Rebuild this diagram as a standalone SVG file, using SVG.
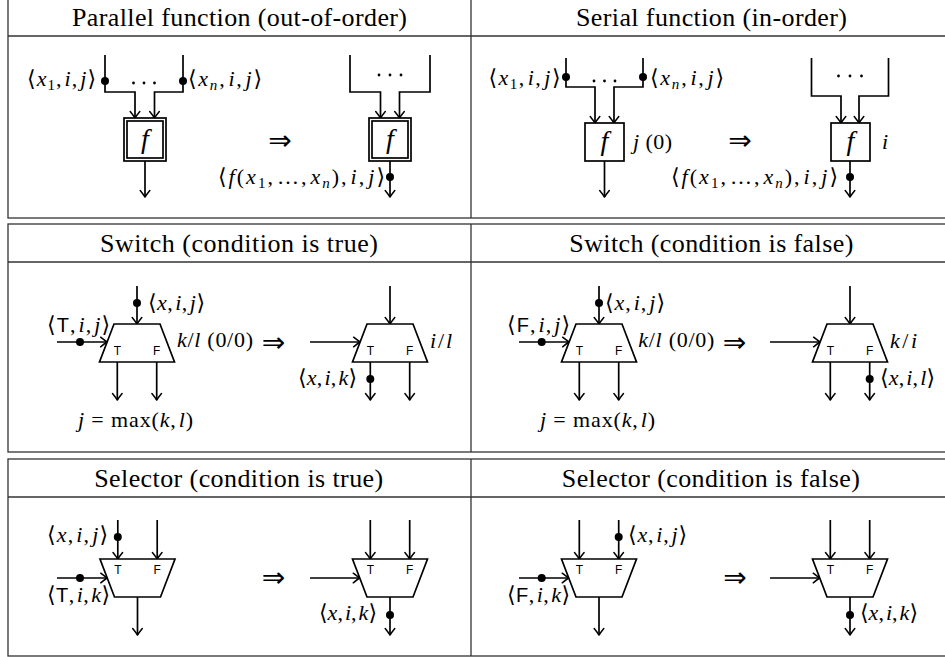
<svg xmlns="http://www.w3.org/2000/svg" width="945" height="657" viewBox="0 0 945 657">
<defs>
<style>
.tb{stroke:#333;stroke-width:1.3;fill:none}
.hd{font-family:"Liberation Serif",serif;font-size:26px;fill:#000;text-anchor:middle}
.ln{stroke:#000;stroke-width:1.7;fill:none;stroke-linejoin:miter;marker-end:url(#ah)}
.dot{fill:#000}
.sh{fill:#fff;stroke:#000;stroke-width:1.7}
.m{font-family:"Liberation Serif","DejaVu Serif","DejaVu Sans",serif;font-size:22px;fill:#000}
.i{font-style:italic}
.sb{font-size:15px}
.sf{font-family:"Liberation Sans",sans-serif;font-style:normal;font-size:20px}
.tf{font-family:"Liberation Sans",sans-serif;font-size:12px;text-anchor:middle;fill:#000}
.ar{font-family:"DejaVu Sans",sans-serif;font-size:28px;text-anchor:middle;fill:#000}
.fx{font-family:"Liberation Serif",serif;font-style:italic;font-size:28px;text-anchor:middle;fill:#000}
</style>
<marker id="ah" markerUnits="userSpaceOnUse" markerWidth="10" markerHeight="12" viewBox="-8 -6 9 12" refX="0" refY="0" orient="auto" overflow="visible">
<path d="M-6.5,-4.8 Q-2,-1.2 0,0 Q-2,1.2 -6.5,4.8" fill="none" stroke="#000" stroke-width="1.5" stroke-linecap="round" stroke-linejoin="round"/>
</marker>
</defs>
<rect width="945" height="657" fill="#fff"/>

<g id="table" class="tb">
<rect x="8" y="-2" width="943" height="220"/>
<line x1="8" y1="36" x2="951" y2="36"/>
<line x1="471" y1="-2" x2="471" y2="218"/>
<rect x="8" y="224" width="943" height="228"/>
<line x1="8" y1="262" x2="951" y2="262"/>
<line x1="471" y1="224" x2="471" y2="452"/>
<rect x="8" y="459" width="943" height="197"/>
<line x1="8" y1="497" x2="951" y2="497"/>
<line x1="471" y1="459" x2="471" y2="656"/>
</g>

<g id="headers">
<text class="hd" x="239.5" y="26" textLength="335" lengthAdjust="spacing">Parallel function (out-of-order)</text>
<text class="hd" x="711.5" y="26" textLength="271" lengthAdjust="spacing">Serial function (in-order)</text>
<text class="hd" x="239" y="252" textLength="278" lengthAdjust="spacing">Switch (condition is true)</text>
<text class="hd" x="711.3" y="252" textLength="284" lengthAdjust="spacing">Switch (condition is false)</text>
<text class="hd" x="238.7" y="487" textLength="289" lengthAdjust="spacing">Selector (condition is true)</text>
<text class="hd" x="710.8" y="487" textLength="298" lengthAdjust="spacing">Selector (condition is false)</text>
</g>

<g id="connectors">
<polyline class="ln" points="105,55 105,92 135,92 135,118"/>
<polyline class="ln" points="183,55 183,92 154.5,92 154.5,118"/>
<line class="ln" x1="145" y1="161" x2="145" y2="197"/>
<polyline class="ln" points="350,55 350,92 380.5,92 380.5,118"/>
<polyline class="ln" points="430,55 430,92 399.5,92 399.5,118"/>
<line class="ln" x1="390" y1="161" x2="390" y2="197"/>
<polyline class="ln" points="566,58 566,87 595,87 595,123"/>
<polyline class="ln" points="643,58 643,87 614,87 614,123"/>
<line class="ln" x1="604.5" y1="161" x2="604.5" y2="197"/>
<polyline class="ln" points="811.5,58 811.5,96 841,96 841,123"/>
<polyline class="ln" points="888.5,58 888.5,96 859,96 859,123"/>
<line class="ln" x1="850" y1="161" x2="850" y2="197"/>

<line class="ln" x1="137" y1="286" x2="137" y2="324"/>
<line class="ln" x1="57" y1="342" x2="107.1" y2="342"/>
<line class="ln" x1="117.3" y1="362" x2="117.3" y2="400"/>
<line class="ln" x1="156.7" y1="362" x2="156.7" y2="400"/>
<line class="ln" x1="390" y1="286" x2="390" y2="324"/>
<line class="ln" x1="310" y1="342" x2="360.1" y2="342"/>
<line class="ln" x1="370.3" y1="362" x2="370.3" y2="400"/>
<line class="ln" x1="409.7" y1="362" x2="409.7" y2="400"/>
<line class="ln" x1="599" y1="286" x2="599" y2="324"/>
<line class="ln" x1="519" y1="342" x2="569.1" y2="342"/>
<line class="ln" x1="579.3" y1="362" x2="579.3" y2="400"/>
<line class="ln" x1="618.7" y1="362" x2="618.7" y2="400"/>
<line class="ln" x1="850" y1="286" x2="850" y2="324"/>
<line class="ln" x1="770" y1="342" x2="820.1" y2="342"/>
<line class="ln" x1="830.3" y1="362" x2="830.3" y2="400"/>
<line class="ln" x1="869.7" y1="362" x2="869.7" y2="400"/>

<line class="ln" x1="117.8" y1="520" x2="117.8" y2="559"/>
<line class="ln" x1="157.2" y1="520" x2="157.2" y2="559"/>
<line class="ln" x1="57" y1="578" x2="107.25" y2="578"/>
<line class="ln" x1="137.5" y1="597" x2="137.5" y2="635"/>
<line class="ln" x1="370.3" y1="520" x2="370.3" y2="559"/>
<line class="ln" x1="409.7" y1="520" x2="409.7" y2="559"/>
<line class="ln" x1="310" y1="578" x2="359.75" y2="578"/>
<line class="ln" x1="390" y1="597" x2="390" y2="635"/>
<line class="ln" x1="579.3" y1="520" x2="579.3" y2="559"/>
<line class="ln" x1="618.7" y1="520" x2="618.7" y2="559"/>
<line class="ln" x1="519" y1="578" x2="568.75" y2="578"/>
<line class="ln" x1="599" y1="597" x2="599" y2="635"/>
<line class="ln" x1="830.3" y1="520" x2="830.3" y2="559"/>
<line class="ln" x1="869.7" y1="520" x2="869.7" y2="559"/>
<line class="ln" x1="770" y1="578" x2="819.75" y2="578"/>
<line class="ln" x1="850" y1="597" x2="850" y2="635"/>

<g class="dot">
<circle cx="105" cy="81" r="4"/><circle cx="183" cy="81" r="4"/><circle cx="390" cy="177" r="4"/>
<circle cx="566" cy="77" r="4"/><circle cx="643" cy="77" r="4"/><circle cx="850" cy="177" r="4"/>
<circle cx="137" cy="303" r="4"/><circle cx="80" cy="342" r="4"/><circle cx="370.3" cy="379" r="4"/>
<circle cx="599" cy="303" r="4"/><circle cx="541.7" cy="342" r="4"/><circle cx="869.7" cy="379" r="4"/>
<circle cx="117.8" cy="537" r="4"/><circle cx="80" cy="578" r="4"/><circle cx="390" cy="615" r="4"/>
<circle cx="618.7" cy="537" r="4"/><circle cx="541.7" cy="578" r="4"/><circle cx="850" cy="615" r="4"/>
</g>
<g class="dot">
<circle cx="133.5" cy="83" r="1.4"/><circle cx="144" cy="83" r="1.4"/><circle cx="154.5" cy="83" r="1.4"/>
<circle cx="379" cy="75" r="1.4"/><circle cx="390" cy="75" r="1.4"/><circle cx="401" cy="75" r="1.4"/>
<circle cx="594" cy="81" r="1.4"/><circle cx="604.5" cy="81" r="1.4"/><circle cx="615" cy="81" r="1.4"/>
<circle cx="838.5" cy="76" r="1.4"/><circle cx="850" cy="76" r="1.4"/><circle cx="861.5" cy="76" r="1.4"/>
</g>
</g>

<g id="par-before">
<rect class="sh" x="124" y="118" width="42" height="43"/>
<rect class="sh" x="127" y="121" width="36" height="37"/>
<text class="fx" x="145" y="148">f</text>
</g>
<g id="par-after">
<rect class="sh" x="369" y="118" width="42" height="43"/>
<rect class="sh" x="372" y="121" width="36" height="37"/>
<text class="fx" x="390" y="148">f</text>
</g>
<g id="ser-before">
<rect class="sh" x="585" y="123" width="39" height="38"/>
<text class="fx" x="604.5" y="150">f</text>
</g>
<g id="ser-after">
<rect class="sh" x="831" y="123" width="39" height="38"/>
<text class="fx" x="850.5" y="150">f</text>
</g>

<g id="sw-true-before">
<polygon class="sh" points="114,324 160,324 174.5,362 99.5,362"/>
<text class="tf" x="117.3" y="355">T</text><text class="tf" x="156.7" y="355">F</text>
</g>
<g id="sw-true-after">
<polygon class="sh" points="367,324 413,324 427.5,362 352.5,362"/>
<text class="tf" x="370.3" y="355">T</text><text class="tf" x="409.7" y="355">F</text>
</g>
<g id="sw-false-before">
<polygon class="sh" points="576,324 622,324 636.5,362 561.5,362"/>
<text class="tf" x="579.3" y="355">T</text><text class="tf" x="618.7" y="355">F</text>
</g>
<g id="sw-false-after">
<polygon class="sh" points="827,324 873,324 887.5,362 812.5,362"/>
<text class="tf" x="830.3" y="355">T</text><text class="tf" x="869.7" y="355">F</text>
</g>

<g id="sel-true-before">
<polygon class="sh" points="100,559 175,559 160.5,597 114.5,597"/>
<text class="tf" x="117.8" y="574">T</text><text class="tf" x="157.2" y="574">F</text>
</g>
<g id="sel-true-after">
<polygon class="sh" points="352.5,559 427.5,559 413,597 367,597"/>
<text class="tf" x="370.3" y="574">T</text><text class="tf" x="409.7" y="574">F</text>
</g>
<g id="sel-false-before">
<polygon class="sh" points="561.5,559 636.5,559 622,597 576,597"/>
<text class="tf" x="579.3" y="574">T</text><text class="tf" x="618.7" y="574">F</text>
</g>
<g id="sel-false-after">
<polygon class="sh" points="812.5,559 887.5,559 873,597 827,597"/>
<text class="tf" x="830.3" y="574">T</text><text class="tf" x="869.7" y="574">F</text>
</g>

<g id="labels">
<text class="m" x="96" y="86" text-anchor="end" textLength="69" lengthAdjust="spacing">⟨<tspan class="i">x</tspan><tspan class="sb" dy="4">1</tspan><tspan dy="-4">,</tspan><tspan class="i" dx="2">i</tspan>,<tspan class="i" dx="2">j</tspan>⟩</text>
<text class="m" x="188" y="86" textLength="74" lengthAdjust="spacing">⟨<tspan class="i">x</tspan><tspan class="sb i" dy="4">n</tspan><tspan dy="-4">,</tspan><tspan class="i" dx="2">i</tspan>,<tspan class="i" dx="2">j</tspan>⟩</text>
<text class="m" x="385" y="184" text-anchor="end" textLength="167" lengthAdjust="spacing">⟨<tspan class="i">f</tspan>(<tspan class="i">x</tspan><tspan class="sb" dy="4">1</tspan><tspan dy="-4">,</tspan><tspan dx="2">…</tspan>,<tspan class="i" dx="2">x</tspan><tspan class="sb i" dy="4">n</tspan><tspan dy="-4">),</tspan><tspan class="i" dx="2">i</tspan>,<tspan class="i" dx="2">j</tspan>⟩</text>
<text class="ar" x="280" y="150">⇒</text>

<text class="m" x="560.5" y="85" text-anchor="end" textLength="72" lengthAdjust="spacing">⟨<tspan class="i">x</tspan><tspan class="sb" dy="4">1</tspan><tspan dy="-4">,</tspan><tspan class="i" dx="2">i</tspan>,<tspan class="i" dx="2">j</tspan>⟩</text>
<text class="m" x="650" y="85" textLength="74" lengthAdjust="spacing">⟨<tspan class="i">x</tspan><tspan class="sb i" dy="4">n</tspan><tspan dy="-4">,</tspan><tspan class="i" dx="2">i</tspan>,<tspan class="i" dx="2">j</tspan>⟩</text>
<text class="m" x="633" y="149" textLength="39" lengthAdjust="spacing"><tspan class="i">j</tspan> (0)</text>
<text class="m" x="882" y="149"><tspan class="i">i</tspan></text>
<text class="m" x="838" y="184" text-anchor="end" textLength="167" lengthAdjust="spacing">⟨<tspan class="i">f</tspan>(<tspan class="i">x</tspan><tspan class="sb" dy="4">1</tspan><tspan dy="-4">,</tspan><tspan dx="2">…</tspan>,<tspan class="i" dx="2">x</tspan><tspan class="sb i" dy="4">n</tspan><tspan dy="-4">),</tspan><tspan class="i" dx="2">i</tspan>,<tspan class="i" dx="2">j</tspan>⟩</text>
<text class="ar" x="740" y="150">⇒</text>

<text class="m" x="148" y="310" textLength="57" lengthAdjust="spacing">⟨<tspan class="i">x</tspan>,<tspan class="i" dx="2">i</tspan>,<tspan class="i" dx="2">j</tspan>⟩</text>
<text class="m" x="110" y="332" text-anchor="end" textLength="63" lengthAdjust="spacing">⟨<tspan class="sf">T</tspan>,<tspan class="i" dx="2">i</tspan>,<tspan class="i" dx="2">j</tspan>⟩</text>
<text class="m" x="177" y="347" textLength="76" lengthAdjust="spacing"><tspan class="i">k</tspan>/<tspan class="i">l</tspan> (0/0)</text>
<text class="m" x="135.5" y="427" text-anchor="middle" textLength="115" lengthAdjust="spacing"><tspan class="i">j</tspan> = max(<tspan class="i">k</tspan>,<tspan class="i" dx="2">l</tspan>)</text>
<text class="ar" x="273.5" y="352">⇒</text>
<text class="m" x="430" y="348" textLength="22" lengthAdjust="spacing"><tspan class="i">i</tspan>/<tspan class="i">l</tspan></text>
<text class="m" x="357" y="385" text-anchor="end" textLength="59" lengthAdjust="spacing">⟨<tspan class="i">x</tspan>,<tspan class="i" dx="2">i</tspan>,<tspan class="i" dx="2">k</tspan>⟩</text>

<text class="m" x="605" y="310" textLength="60" lengthAdjust="spacing">⟨<tspan class="i">x</tspan>,<tspan class="i" dx="2">i</tspan>,<tspan class="i" dx="2">j</tspan>⟩</text>
<text class="m" x="570" y="332" text-anchor="end" textLength="63" lengthAdjust="spacing">⟨<tspan class="sf">F</tspan>,<tspan class="i" dx="2">i</tspan>,<tspan class="i" dx="2">j</tspan>⟩</text>
<text class="m" x="638.3" y="347" textLength="76" lengthAdjust="spacing"><tspan class="i">k</tspan>/<tspan class="i">l</tspan> (0/0)</text>
<text class="m" x="597.5" y="427" text-anchor="middle" textLength="115" lengthAdjust="spacing"><tspan class="i">j</tspan> = max(<tspan class="i">k</tspan>,<tspan class="i" dx="2">l</tspan>)</text>
<text class="ar" x="734.5" y="352">⇒</text>
<text class="m" x="890" y="348" textLength="27" lengthAdjust="spacing"><tspan class="i">k</tspan>/<tspan class="i">i</tspan></text>
<text class="m" x="880" y="385" textLength="55" lengthAdjust="spacing">⟨<tspan class="i">x</tspan>,<tspan class="i" dx="2">i</tspan>,<tspan class="i" dx="2">l</tspan>⟩</text>

<text class="m" x="108" y="542" text-anchor="end" textLength="61" lengthAdjust="spacing">⟨<tspan class="i">x</tspan>,<tspan class="i" dx="2">i</tspan>,<tspan class="i" dx="2">j</tspan>⟩</text>
<text class="m" x="110" y="602" text-anchor="end" textLength="63" lengthAdjust="spacing">⟨<tspan class="sf">T</tspan>,<tspan class="i" dx="2">i</tspan>,<tspan class="i" dx="2">k</tspan>⟩</text>
<text class="ar" x="273.5" y="587">⇒</text>
<text class="m" x="377" y="620" text-anchor="end" textLength="58" lengthAdjust="spacing">⟨<tspan class="i">x</tspan>,<tspan class="i" dx="2">i</tspan>,<tspan class="i" dx="2">k</tspan>⟩</text>

<text class="m" x="628" y="542" textLength="59" lengthAdjust="spacing">⟨<tspan class="i">x</tspan>,<tspan class="i" dx="2">i</tspan>,<tspan class="i" dx="2">j</tspan>⟩</text>
<text class="m" x="570" y="602" text-anchor="end" textLength="63" lengthAdjust="spacing">⟨<tspan class="sf">F</tspan>,<tspan class="i" dx="2">i</tspan>,<tspan class="i" dx="2">k</tspan>⟩</text>
<text class="ar" x="735" y="587">⇒</text>
<text class="m" x="860" y="620" textLength="58" lengthAdjust="spacing">⟨<tspan class="i">x</tspan>,<tspan class="i" dx="2">i</tspan>,<tspan class="i" dx="2">k</tspan>⟩</text>
</g>
</svg>
